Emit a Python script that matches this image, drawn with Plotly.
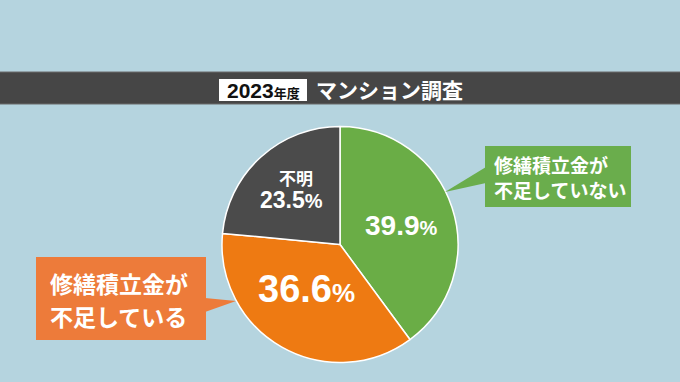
import plotly.graph_objects as go

# Data
categories = ["修繕積立金が不足していない", "修繕積立金が不足している", "不明"]
values = [39.9, 36.6, 23.5]
colors = ["#6aad46", "#ee7a12", "#4b4b4b"]
title_year = "2023"
title_year_unit = "年度"
title_main = "マンション調査"

W, H = 680, 382
JP = "Noto Sans CJK JP"
NUM = "Liberation Sans, Arial, Noto Sans CJK JP"

fig = go.Figure()

# pie centre (340, 244.5), radius 118 px
cx, cy, r = 340, 244.5, 118
fig.add_trace(go.Pie(
    labels=categories, values=values, sort=False, direction="clockwise", rotation=0,
    marker=dict(colors=colors, line=dict(color="white", width=1.5)),
    textinfo="none", hoverinfo="label+percent", showlegend=False,
    domain=dict(x=[(cx - r) / W, (cx + r) / W], y=[(H - cy - r) / H, (H - cy + r) / H]),
))

# invisible pixel axes for decorations
fig.update_xaxes(range=[0, W], visible=False, fixedrange=True)
fig.update_yaxes(range=[H, 0], visible=False, fixedrange=True)

shapes = []
# banner
shapes.append(dict(type="rect", x0=-2, x1=W + 2, y0=72, y1=104, fillcolor="#464646",
                   line=dict(color="#6a6a6a", width=1), layer="below"))
shapes.append(dict(type="rect", x0=219, x1=307, y0=79, y1=101, fillcolor="white",
                   line=dict(width=0)))
# green callout
shapes.append(dict(type="rect", x0=485, x1=631, y0=146, y1=207, fillcolor="#6aad4c",
                   line=dict(width=0)))
shapes.append(dict(type="path", path="M 445 192 L 486 167 L 486 183 Z", fillcolor="#6aad4c",
                   line=dict(width=0)))
# orange callout
shapes.append(dict(type="rect", x0=36, x1=206, y0=257, y1=340, fillcolor="#ed7b3a",
                   line=dict(width=0)))
shapes.append(dict(type="path", path="M 205 298 L 236 301 L 205 312 Z", fillcolor="#ed7b3a",
                   line=dict(width=0)))
for s in shapes:
    s.setdefault("xref", "x")
    s.setdefault("yref", "y")
fig.update_layout(shapes=shapes)

ann = []
def add(x, y, text, size, color="white", xanchor="center", family=JP):
    ann.append(dict(x=x, y=y, xref="x", yref="y", text=text, showarrow=False,
                    xanchor=xanchor, yanchor="middle",
                    font=dict(family=family, size=size, color=color)))

add(225, 90, f"<b>{title_year}<span style='font-size:13px; font-family:Noto Sans CJK JP'>{title_year_unit}</span></b>",
    21, "#111111", xanchor="left", family=NUM)
add(314, 89, f"<b>{title_main}</b>", 21, "white", xanchor="left")

# slice labels
add(401, 225, f"<b>{values[0]}<span style='font-size:20px'>%</span></b>", 28, family=NUM)
add(306, 289, f"<b>{values[1]}<span style='font-size:26px'>%</span></b>", 38, family=NUM)
add(296, 177, "<b>不明</b>", 17)
add(291, 200, f"<b>{values[2]}<span style='font-size:20px'>%</span></b>", 23, family=NUM)

# callout texts
add(492, 164, "<b>修繕積立金が</b>", 19, xanchor="left")
add(492, 189, "<b>不足していない</b>", 19, xanchor="left")
add(48, 283, "<b>修繕積立金が</b>", 23, xanchor="left")
add(48, 316, "<b>不足している</b>", 23, xanchor="left")
fig.update_layout(annotations=ann)

fig.update_layout(
    width=W, height=H, margin=dict(l=0, r=0, t=0, b=0),
    paper_bgcolor="#b5d4df", plot_bgcolor="#b5d4df",
    font=dict(family=JP),
)

fig.write_html("out.html", config={"displayModeBar": False},
               post_script="document.body.style.margin='0';document.body.style.padding='0';")
